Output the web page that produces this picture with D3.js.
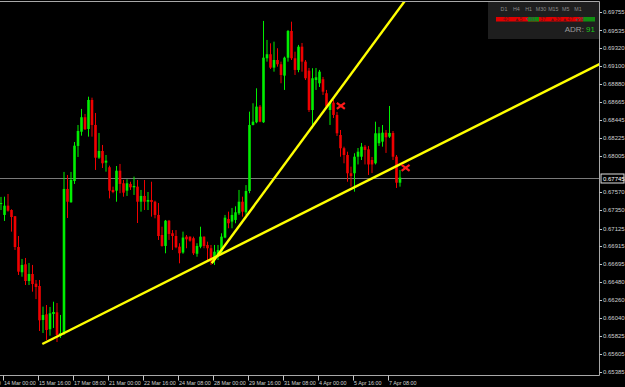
<!DOCTYPE html>
<head>
    <meta charset="utf-8">
    <title>NZDUSD H4 trendlines</title>
    <style>
        body { margin: 0; background: #000; }
        svg { display: block; }
        text { font-family: "Liberation Sans", Arial, sans-serif; }
    </style>
</head>
<body>
<svg width="625" height="387"></svg>

<script src="https://d3js.org/d3.v7.min.js"></script>
<script>

    //****************************data************************************//
    var barOpen = [
        0.67424,0.67291,0.67404,0.67351,0.67275,0.66901,0.66594,0.66691,0.66488,0.66573,
        0.66455,0.66427,0.66014,0.66083,0.65901,0.66087,0.66107,0.65823,0.65856,0.67607,
        0.67445,0.67704,0.68130,0.68303,0.68479,0.68336,0.68689,0.68385,0.67987,0.68069,
        0.67927,0.67871,0.67595,0.67586,0.67829,0.67676,0.67586,0.67668,0.67627,0.67635,
        0.67452,0.67522,0.67452,0.67473,0.67452,0.67291,0.67047,0.66914,0.67221,0.67068,
        0.67035,0.66905,0.66834,0.67027,0.67027,0.67008,0.66819,0.66905,0.67027,0.66926,
        0.66886,0.66743,0.66804,0.66844,0.67016,0.67242,0.67210,0.67230,0.67311,0.67452,
        0.67323,0.67582,0.68385,0.68418,0.68608,0.68418,0.69196,0.69245,0.69082,0.69175,
        0.69123,0.68985,0.69203,0.69528,0.69196,0.69054,0.69337,0.69155,0.69045,0.68567,
        0.68932,0.68892,0.68941,0.68771,0.68567,0.68656,0.68507,0.68263,0.68102,0.68020,
        0.67798,0.67798,0.67999,0.67999,0.68121,0.68089,0.67959,0.67919,0.68163,0.68182,
        0.68291,0.68243,0.68288,0.67999,0.67683
    ];
    var barHigh = [
        0.67510,0.67513,0.67546,0.67360,0.67278,0.67035,0.66756,0.66768,0.66707,0.66683,
        0.66500,0.66500,0.66176,0.66196,0.66172,0.66236,0.66220,0.66075,0.67814,0.67777,
        0.67814,0.68178,0.68385,0.68580,0.68519,0.68729,0.68717,0.68531,0.68288,0.68142,
        0.68020,0.67890,0.67635,0.67886,0.67911,0.67716,0.67725,0.67695,0.67757,0.67716,
        0.67595,0.67716,0.67570,0.67695,0.67464,0.67436,0.67148,0.67230,0.67230,0.67107,
        0.67107,0.66947,0.67088,0.67047,0.67030,0.67027,0.66947,0.67148,0.67030,0.66966,
        0.66926,0.66926,0.66926,0.67068,0.67291,0.67331,0.67376,0.67396,0.67595,0.67513,
        0.67654,0.68547,0.68649,0.68831,0.68628,0.69650,0.69419,0.69378,0.69398,0.69318,
        0.69155,0.69216,0.69540,0.69641,0.69276,0.69358,0.69382,0.69175,0.69078,0.69075,
        0.69078,0.69054,0.68969,0.68811,0.68668,0.68689,0.68543,0.68324,0.68121,0.68060,
        0.67878,0.68041,0.68105,0.68166,0.68142,0.68130,0.67996,0.68425,0.68361,0.68385,
        0.68324,0.68616,0.68312,0.68020,0.67838
    ];
    var barLow = [
        0.67351,0.67218,0.67331,0.67088,0.66865,0.66561,0.66540,0.66439,0.66439,0.66358,
        0.66268,0.65880,0.65856,0.65771,0.65823,0.65917,0.65746,0.65795,0.65831,0.67254,
        0.67440,0.67668,0.67996,0.68255,0.68324,0.68243,0.68243,0.67838,0.67972,0.67862,
        0.67817,0.67492,0.67555,0.67452,0.67555,0.67513,0.67522,0.67595,0.67534,0.67193,
        0.67331,0.67351,0.67351,0.67270,0.67250,0.66987,0.66905,0.66825,0.66987,0.66865,
        0.66886,0.66703,0.66819,0.66886,0.66966,0.66804,0.66783,0.66886,0.66886,0.66743,
        0.66683,0.66683,0.66743,0.66804,0.67008,0.67129,0.67129,0.67190,0.67291,0.67270,
        0.67291,0.67555,0.68380,0.68406,0.68418,0.68410,0.69155,0.69066,0.69033,0.69094,
        0.68892,0.68811,0.69155,0.69175,0.68993,0.69026,0.69033,0.68932,0.68543,0.68345,
        0.68811,0.68847,0.68750,0.68592,0.68385,0.68470,0.68251,0.67999,0.67919,0.67695,
        0.67635,0.67574,0.67905,0.67959,0.67905,0.67777,0.67801,0.67905,0.68130,0.68121,
        0.68045,0.68227,0.67959,0.67619,0.67635
    ];
    var barClose = [
        0.67436,0.67404,0.67343,0.67266,0.66901,0.66601,0.66683,0.66488,0.66573,0.66451,
        0.66415,0.66010,0.66075,0.65892,0.66095,0.66111,0.65831,0.65856,0.67607,0.67452,
        0.67716,0.68133,0.68312,0.68479,0.68333,0.68689,0.68385,0.67987,0.68069,0.67919,
        0.67951,0.67586,0.67570,0.67829,0.67668,0.67562,0.67676,0.67627,0.67643,0.67452,
        0.67522,0.67452,0.67473,0.67449,0.67291,0.67035,0.66914,0.67221,0.67060,0.67035,
        0.66898,0.66825,0.67016,0.66995,0.66978,0.66825,0.66914,0.67027,0.66914,0.66886,
        0.66723,0.66844,0.66865,0.67027,0.67258,0.67190,0.67291,0.67323,0.67452,0.67331,
        0.67582,0.68385,0.68425,0.68608,0.68425,0.69203,0.69245,0.69082,0.69175,0.69123,
        0.68993,0.69203,0.69528,0.69196,0.69054,0.69337,0.69155,0.68953,0.68567,0.68953,
        0.68965,0.69033,0.68790,0.68608,0.68656,0.68507,0.68284,0.68102,0.68020,0.67798,
        0.67765,0.67999,0.68060,0.68121,0.68081,0.67905,0.67905,0.68284,0.68284,0.68291,
        0.68235,0.68288,0.67999,0.67683,0.67745
    ];

    var bidPrice = 0.67745;

    // price axis labels (as MT4 prints them; the one under the bid label is hidden)
    var priceTicks = ["0.69755","0.69535","0.69320","0.69100","0.68880","0.68665","0.68445",
        "0.68225","0.68005","0.67570","0.67350","0.67125","0.66915","0.66695",
        "0.66480","0.66260","0.66040","0.65825","0.65605","0.65385"];

    // time axis labels, bar index where each one sits
    var timeTickBars = [-9, 1, 11, 21, 31, 41, 51, 61, 71, 81, 91, 101, 111];
    var timeTicks = ["10 Mar 08:00","14 Mar 00:00","15 Mar 16:00","17 Mar 08:00","21 Mar 00:00",
        "22 Mar 16:00","24 Mar 08:00","28 Mar 00:00","29 Mar 16:00","31 Mar 08:00",
        "4 Apr 00:00","5 Apr 16:00","7 Apr 08:00"];

    // trend lines as two anchor points (bar, price), drawn as rays to the right
    var trendLow = [[11.8, 0.65722], [114.2, 0.67911]];
    var trendSteep = [[60.2, 0.66703], [114.9, 0.69865]];

    // red cross markers where price broke the lines
    var breakBars = [97.1, 115.6];
    var breakPrices = [0.68616, 0.67862];

    // timeframe panel (top right)
    var tfNames = ["D1","H4","H1","M30","M15","M5","M1"];
    var tfValues = ["40","\u25B25","\u25BC81","37","\u25B230","\u25B247","\u25CF98"];
    var adrValue = "91";

    //****************************scales************************************//
    var svg = d3.select("svg"),
        width = +svg.attr("width"),
        height = +svg.attr("height");

    var plotRight = 599.5, plotTop = 1.5, plotBottom = 375.5;

    var x = d3.scaleLinear()
        .domain([0, barOpen.length - 1])
        .range([1, 400]);
    var y = d3.scaleLinear()
        .domain([0.65385, 0.69755])
        .range([371.7, 12.3]);

    svg.append("rect")
        .attr("width", width).attr("height", height)
        .attr("fill", "#000");

    svg.append("defs").append("clipPath").attr("id", "plot")
        .append("rect")
        .attr("x", 0).attr("y", plotTop)
        .attr("width", plotRight).attr("height", plotBottom - plotTop);

    var plot = svg.append("g").attr("clip-path", "url(#plot)");

    // bid line
    plot.append("line")
        .attr("x1", 0).attr("x2", plotRight)
        .attr("y1", Math.round(y(bidPrice)) + 0.5).attr("y2", Math.round(y(bidPrice)) + 0.5)
        .attr("stroke", "#7a7a7a");

    //****************************candles************************************//
    var bars = d3.range(barOpen.length).map(i => ({
        i: i, o: barOpen[i], h: barHigh[i], l: barLow[i], c: barClose[i]
    }));
    var colorOf = d => d.c >= d.o ? "#00ee00" : "#f00000";

    var candle = plot.append("g").selectAll("g")
        .data(bars)
        .enter().append("g");

    candle.append("line")
        .attr("x1", d => x(d.i)).attr("x2", d => x(d.i))
        .attr("y1", d => y(d.h)).attr("y2", d => y(d.l))
        .attr("stroke", colorOf)
        .attr("stroke-width", 1);

    candle.append("rect")
        .attr("x", d => x(d.i) - 1.3)
        .attr("width", 2.6)
        .attr("y", d => y(Math.max(d.o, d.c)))
        .attr("height", d => Math.max(1, Math.abs(y(d.o) - y(d.c))))
        .attr("fill", colorOf);

    //****************************trend lines************************************//
    function ray(pts) {
        var x1 = x(pts[0][0]), y1 = y(pts[0][1]),
            x2 = x(pts[1][0]), y2 = y(pts[1][1]);
        var k = (y2 - y1) / (x2 - x1);
        return [[x1, y1], [plotRight, y1 + k * (plotRight - x1)]];
    }

    [trendLow, trendSteep].forEach(t => {
        plot.append("path")
            .attr("d", d3.line()(ray(t)))
            .attr("stroke", "#ffff00")
            .attr("stroke-width", 2.4)
            .attr("fill", "none");
    });

    plot.selectAll(".cross")
        .data(breakBars)
        .enter().append("path")
        .attr("class", "cross")
        .attr("d", (d, i) => {
            var cx = x(d), cy = y(breakPrices[i]);
            return "M" + (cx - 4) + "," + (cy - 3) + "L" + (cx + 4) + "," + (cy + 3) +
                   "M" + (cx - 4) + "," + (cy + 3) + "L" + (cx + 4) + "," + (cy - 3);
        })
        .attr("stroke", "#ff1a1a")
        .attr("stroke-width", 2.2);

    //****************************frame and axes************************************//
    svg.append("path")
        .attr("d", "M0," + plotTop + "H" + plotRight + "V" + plotBottom + "H0")
        .attr("stroke", "#a8a8a8")
        .attr("fill", "none");

    var yAxis = svg.append("g");
    yAxis.selectAll("line")
        .data(priceTicks)
        .enter().append("line")
        .attr("x1", plotRight).attr("x2", plotRight + 2.5)
        .attr("y1", d => Math.round(y(+d)) + 0.5).attr("y2", d => Math.round(y(+d)) + 0.5)
        .attr("stroke", "#c8c8c8");
    yAxis.selectAll("text")
        .data(priceTicks)
        .enter().append("text")
        .attr("x", plotRight + 3.5)
        .attr("y", d => y(+d))
        .attr("dy", "0.36em")
        .attr("fill", "#d0d0d0")
        .attr("font-size", "6px")
        .text(d => d);

    // bid price label on the axis
    var bidY = Math.round(y(bidPrice)) + 0.5;
    svg.append("rect")
        .attr("x", plotRight + 1.5).attr("y", bidY - 4.5)
        .attr("width", 23).attr("height", 9)
        .attr("fill", "#000").attr("stroke", "#e0e0e0");
    svg.append("text")
        .attr("x", plotRight + 3.5).attr("y", bidY)
        .attr("dy", "0.36em")
        .attr("fill", "#ffffff")
        .attr("font-size", "6px")
        .text(bidPrice.toFixed(5));

    var xAxis = svg.append("g");
    xAxis.selectAll("line")
        .data(timeTickBars)
        .enter().append("line")
        .attr("x1", d => Math.round(x(d) - 1.75) + 0.5).attr("x2", d => Math.round(x(d) - 1.75) + 0.5)
        .attr("y1", plotBottom).attr("y2", plotBottom + 5)
        .attr("stroke", "#c8c8c8");
    xAxis.selectAll("text")
        .data(timeTickBars)
        .enter().append("text")
        .attr("x", d => x(d) - 0.5)
        .attr("y", plotBottom + 9.5)
        .attr("fill", "#d0d0d0")
        .attr("font-size", "5.4px")
        .text((d, i) => timeTicks[i]);

    //****************************timeframe panel************************************//
    var panel = svg.append("g");
    panel.append("rect")
        .attr("x", 488).attr("y", plotTop + 0.5)
        .attr("width", plotRight - 488.5).attr("height", 37)
        .attr("fill", "#1e1e1e");

    panel.append("rect")
        .attr("x", 496).attr("y", 17).attr("width", 87).attr("height", 4.5)
        .attr("fill", "#e00000");
    panel.append("rect")
        .attr("x", 528).attr("y", 17).attr("width", 11).attr("height", 4.5)
        .attr("fill", "#109010");
    panel.append("rect")
        .attr("x", 583).attr("y", 17).attr("width", 12).attr("height", 4.5)
        .attr("fill", "#109010");

    var tfX = d3.scalePoint().domain(tfNames).range([504, 578]);
    panel.selectAll(".tf")
        .data(tfNames)
        .enter().append("text")
        .attr("class", "tf")
        .attr("x", d => tfX(d)).attr("y", 10.5)
        .attr("text-anchor", "middle")
        .attr("fill", "#8a8a8a")
        .attr("font-size", "5.3px")
        .text(d => d);
    panel.selectAll(".tv")
        .data(tfValues)
        .enter().append("text")
        .attr("class", "tv")
        .attr("x", (d, i) => tfX(tfNames[i]) + 2).attr("y", 21)
        .attr("text-anchor", "middle")
        .attr("fill", (d, i) => i == 2 || i == 6 ? "#4a4a4a" : "#701010")
        .attr("font-size", "5.3px")
        .text(d => d);

    var adr = panel.append("text")
        .attr("x", 595).attr("y", 31.5)
        .attr("text-anchor", "end")
        .attr("font-size", "8px");
    adr.append("tspan").attr("fill", "#9a9a9a").text("ADR: ");
    adr.append("tspan").attr("fill", "#19c819").text(adrValue);

</script>
</body>
